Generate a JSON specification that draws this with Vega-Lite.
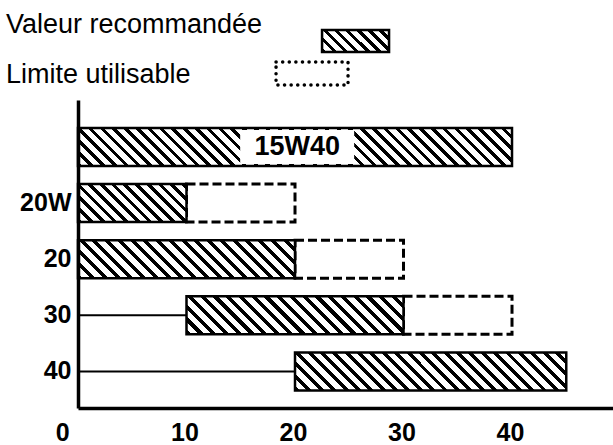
{
  "$schema": "https://vega.github.io/schema/vega-lite/v6.json",
  "padding": {"left": 5, "top": 0, "right": 0, "bottom": 0},
  "background": "white",
  "spacing": 0,
  "bounds": "flush",
  "config": {"view": {"stroke": null}},
  "datasets": {
    "grades": [
      {"grade": "15W40", "rec_start": 0, "rec_end": 40},
      {"grade": "20W", "rec_start": 0, "rec_end": 10, "lim_start": 10, "lim_end": 20},
      {"grade": "20", "rec_start": 0, "rec_end": 20, "lim_start": 20, "lim_end": 30},
      {"grade": "30", "rec_start": 10, "rec_end": 30, "lim_start": 30, "lim_end": 40},
      {"grade": "40", "rec_start": 20, "rec_end": 45}
    ],
    "legend": [
      {"item": "Valeur recommandée", "kind": "rec"},
      {"item": "Limite utilisable", "kind": "lim"}
    ]
  },
  "vconcat": [
    {
      "width": 536,
      "height": 100,
      "data": {"name": "legend"},
      "layer": [
        {
          "mark": {"type": "text", "font": "Liberation Sans", "fontSize": 27, "color": "#000", "align": "left", "baseline": "alphabetic"},
          "encoding": {
            "x": {"datum": -6.64, "type": "quantitative", "scale": {"domain": [0, 49.4], "nice": false, "zero": false}, "axis": null},
            "y": {"field": "item", "type": "nominal", "scale": {"type": "point", "domain": ["Valeur recommandée", "Limite utilisable"], "range": [33, 83], "padding": 0}, "axis": null},
            "text": {"field": "item"}
          }
        },
        {
          "transform": [{"filter": "datum.kind === 'rec'"}],
          "mark": {"type": "point", "shape": "M-1,-0.328H1V0.328H-1Z", "size": 4489, "yOffset": 8, "filled": true, "opacity": 1, "stroke": "#000", "strokeWidth": 2.5,
            "fill": {"gradient": "linear", "x1": 0, "y1": 1, "x2": 1.1991, "y2": 0.6063, "stops": [
              {"offset": 0, "color": "#000"}, {"offset": 0.05, "color": "#000"}, {"offset": 0.05, "color": "#fff"}, {"offset": 0.125, "color": "#fff"},
              {"offset": 0.125, "color": "#000"}, {"offset": 0.175, "color": "#000"}, {"offset": 0.175, "color": "#fff"}, {"offset": 0.25, "color": "#fff"},
              {"offset": 0.25, "color": "#000"}, {"offset": 0.3, "color": "#000"}, {"offset": 0.3, "color": "#fff"}, {"offset": 0.375, "color": "#fff"},
              {"offset": 0.375, "color": "#000"}, {"offset": 0.425, "color": "#000"}, {"offset": 0.425, "color": "#fff"}, {"offset": 0.5, "color": "#fff"},
              {"offset": 0.5, "color": "#000"}, {"offset": 0.55, "color": "#000"}, {"offset": 0.55, "color": "#fff"}, {"offset": 0.625, "color": "#fff"},
              {"offset": 0.625, "color": "#000"}, {"offset": 0.675, "color": "#000"}, {"offset": 0.675, "color": "#fff"}, {"offset": 0.75, "color": "#fff"},
              {"offset": 0.75, "color": "#000"}, {"offset": 0.8, "color": "#000"}, {"offset": 0.8, "color": "#fff"}, {"offset": 0.875, "color": "#fff"},
              {"offset": 0.875, "color": "#000"}, {"offset": 0.925, "color": "#000"}, {"offset": 0.925, "color": "#fff"}, {"offset": 1, "color": "#fff"}
            ]}},
          "encoding": {
            "x": {"datum": 25.58, "type": "quantitative"},
            "y": {"field": "item", "type": "nominal"}
          }
        },
        {
          "transform": [{"filter": "datum.kind === 'lim'"}],
          "mark": {"type": "point", "shape": "M-1,-0.319H1V0.319H-1Z", "size": 5184, "yOffset": -9.5, "filled": true, "opacity": 1, "fill": "#fff", "stroke": "#000", "strokeWidth": 3.5, "strokeDash": [0.1, 6.5], "strokeCap": "round"},
          "encoding": {
            "x": {"datum": 21.57, "type": "quantitative"},
            "y": {"field": "item", "type": "nominal"}
          }
        }
      ]
    },
    {
      "width": 536,
      "height": 308,
      "data": {"name": "grades"},
      "layer": [
        {
          "transform": [{"filter": "isValid(datum.lim_start)"}],
          "mark": {"type": "rect", "fill": "#fff", "stroke": "#000", "strokeWidth": 3, "strokeDash": [9, 4]},
          "encoding": {
            "x": {"field": "lim_start", "type": "quantitative", "scale": {"domain": [0, 49.4], "nice": false, "zero": false},
              "axis": {"title": null, "values": [0, 10, 20, 30, 40], "ticks": false, "tickSize": 0, "grid": false, "domainColor": "#000", "domainWidth": 3.5, "labelFont": "Liberation Sans", "labelFontSize": 25, "labelFontWeight": "bold", "labelColor": "#000", "labelPadding": 12, "labelFlush": false, "labelOverlap": false, "labelOffset": -2, "labelExpr": "datum.value === 0 ? '0\u00a0\u00a0\u00a0\u00a0\u200b' : datum.label"}},
            "x2": {"field": "lim_end"},
            "y": {"field": "grade", "type": "nominal", "scale": {"domain": ["15W40", "20W", "20", "30", "40"], "paddingInner": 0.3226, "paddingOuter": 0.406, "align": 0.614},
              "axis": {"title": null, "ticks": false, "tickSize": 0, "grid": false, "domainColor": "#000", "domainWidth": 3.5, "labelFont": "Liberation Sans", "labelFontSize": 25, "labelFontWeight": "bold", "labelColor": "#000", "labelPadding": 7, "labelExpr": "datum.value === '15W40' ? '' : datum.value"}}
          }
        },
        {
          "transform": [{"filter": "datum.rec_start > 0"}],
          "mark": {"type": "rule", "color": "#000", "strokeWidth": 2},
          "encoding": {
            "x": {"field": "rec_start", "type": "quantitative"},
            "x2": {"value": 0},
            "y": {"field": "grade", "type": "nominal"}
          }
        },
        {
          "transform": [{"filter": "datum.grade === '15W40'"}],
          "mark": {"type": "rect", "stroke": "#000", "strokeWidth": 2.5,
            "fill": {"gradient": "linear", "x1": 0, "y1": 1, "x2": 1.0793, "y2": 0.9055, "stops": [
              {"offset": 0, "color": "#000"}, {"offset": 0.01, "color": "#000"}, {"offset": 0.01, "color": "#fff"}, {"offset": 0.025, "color": "#fff"},
              {"offset": 0.025, "color": "#000"}, {"offset": 0.035, "color": "#000"}, {"offset": 0.035, "color": "#fff"}, {"offset": 0.05, "color": "#fff"},
              {"offset": 0.05, "color": "#000"}, {"offset": 0.06, "color": "#000"}, {"offset": 0.06, "color": "#fff"}, {"offset": 0.075, "color": "#fff"},
              {"offset": 0.075, "color": "#000"}, {"offset": 0.085, "color": "#000"}, {"offset": 0.085, "color": "#fff"}, {"offset": 0.1, "color": "#fff"},
              {"offset": 0.1, "color": "#000"}, {"offset": 0.11, "color": "#000"}, {"offset": 0.11, "color": "#fff"}, {"offset": 0.125, "color": "#fff"},
              {"offset": 0.125, "color": "#000"}, {"offset": 0.135, "color": "#000"}, {"offset": 0.135, "color": "#fff"}, {"offset": 0.15, "color": "#fff"},
              {"offset": 0.15, "color": "#000"}, {"offset": 0.16, "color": "#000"}, {"offset": 0.16, "color": "#fff"}, {"offset": 0.175, "color": "#fff"},
              {"offset": 0.175, "color": "#000"}, {"offset": 0.185, "color": "#000"}, {"offset": 0.185, "color": "#fff"}, {"offset": 0.2, "color": "#fff"},
              {"offset": 0.2, "color": "#000"}, {"offset": 0.21, "color": "#000"}, {"offset": 0.21, "color": "#fff"}, {"offset": 0.225, "color": "#fff"},
              {"offset": 0.225, "color": "#000"}, {"offset": 0.235, "color": "#000"}, {"offset": 0.235, "color": "#fff"}, {"offset": 0.25, "color": "#fff"},
              {"offset": 0.25, "color": "#000"}, {"offset": 0.26, "color": "#000"}, {"offset": 0.26, "color": "#fff"}, {"offset": 0.275, "color": "#fff"},
              {"offset": 0.275, "color": "#000"}, {"offset": 0.285, "color": "#000"}, {"offset": 0.285, "color": "#fff"}, {"offset": 0.3, "color": "#fff"},
              {"offset": 0.3, "color": "#000"}, {"offset": 0.31, "color": "#000"}, {"offset": 0.31, "color": "#fff"}, {"offset": 0.325, "color": "#fff"},
              {"offset": 0.325, "color": "#000"}, {"offset": 0.335, "color": "#000"}, {"offset": 0.335, "color": "#fff"}, {"offset": 0.35, "color": "#fff"},
              {"offset": 0.35, "color": "#000"}, {"offset": 0.36, "color": "#000"}, {"offset": 0.36, "color": "#fff"}, {"offset": 0.375, "color": "#fff"},
              {"offset": 0.375, "color": "#000"}, {"offset": 0.385, "color": "#000"}, {"offset": 0.385, "color": "#fff"}, {"offset": 0.4, "color": "#fff"},
              {"offset": 0.4, "color": "#000"}, {"offset": 0.41, "color": "#000"}, {"offset": 0.41, "color": "#fff"}, {"offset": 0.425, "color": "#fff"},
              {"offset": 0.425, "color": "#000"}, {"offset": 0.435, "color": "#000"}, {"offset": 0.435, "color": "#fff"}, {"offset": 0.45, "color": "#fff"},
              {"offset": 0.45, "color": "#000"}, {"offset": 0.46, "color": "#000"}, {"offset": 0.46, "color": "#fff"}, {"offset": 0.475, "color": "#fff"},
              {"offset": 0.475, "color": "#000"}, {"offset": 0.485, "color": "#000"}, {"offset": 0.485, "color": "#fff"}, {"offset": 0.5, "color": "#fff"},
              {"offset": 0.5, "color": "#000"}, {"offset": 0.51, "color": "#000"}, {"offset": 0.51, "color": "#fff"}, {"offset": 0.525, "color": "#fff"},
              {"offset": 0.525, "color": "#000"}, {"offset": 0.535, "color": "#000"}, {"offset": 0.535, "color": "#fff"}, {"offset": 0.55, "color": "#fff"},
              {"offset": 0.55, "color": "#000"}, {"offset": 0.56, "color": "#000"}, {"offset": 0.56, "color": "#fff"}, {"offset": 0.575, "color": "#fff"},
              {"offset": 0.575, "color": "#000"}, {"offset": 0.585, "color": "#000"}, {"offset": 0.585, "color": "#fff"}, {"offset": 0.6, "color": "#fff"},
              {"offset": 0.6, "color": "#000"}, {"offset": 0.61, "color": "#000"}, {"offset": 0.61, "color": "#fff"}, {"offset": 0.625, "color": "#fff"},
              {"offset": 0.625, "color": "#000"}, {"offset": 0.635, "color": "#000"}, {"offset": 0.635, "color": "#fff"}, {"offset": 0.65, "color": "#fff"},
              {"offset": 0.65, "color": "#000"}, {"offset": 0.66, "color": "#000"}, {"offset": 0.66, "color": "#fff"}, {"offset": 0.675, "color": "#fff"},
              {"offset": 0.675, "color": "#000"}, {"offset": 0.685, "color": "#000"}, {"offset": 0.685, "color": "#fff"}, {"offset": 0.7, "color": "#fff"},
              {"offset": 0.7, "color": "#000"}, {"offset": 0.71, "color": "#000"}, {"offset": 0.71, "color": "#fff"}, {"offset": 0.725, "color": "#fff"},
              {"offset": 0.725, "color": "#000"}, {"offset": 0.735, "color": "#000"}, {"offset": 0.735, "color": "#fff"}, {"offset": 0.75, "color": "#fff"},
              {"offset": 0.75, "color": "#000"}, {"offset": 0.76, "color": "#000"}, {"offset": 0.76, "color": "#fff"}, {"offset": 0.775, "color": "#fff"},
              {"offset": 0.775, "color": "#000"}, {"offset": 0.785, "color": "#000"}, {"offset": 0.785, "color": "#fff"}, {"offset": 0.8, "color": "#fff"},
              {"offset": 0.8, "color": "#000"}, {"offset": 0.81, "color": "#000"}, {"offset": 0.81, "color": "#fff"}, {"offset": 0.825, "color": "#fff"},
              {"offset": 0.825, "color": "#000"}, {"offset": 0.835, "color": "#000"}, {"offset": 0.835, "color": "#fff"}, {"offset": 0.85, "color": "#fff"},
              {"offset": 0.85, "color": "#000"}, {"offset": 0.86, "color": "#000"}, {"offset": 0.86, "color": "#fff"}, {"offset": 0.875, "color": "#fff"},
              {"offset": 0.875, "color": "#000"}, {"offset": 0.885, "color": "#000"}, {"offset": 0.885, "color": "#fff"}, {"offset": 0.9, "color": "#fff"},
              {"offset": 0.9, "color": "#000"}, {"offset": 0.91, "color": "#000"}, {"offset": 0.91, "color": "#fff"}, {"offset": 0.925, "color": "#fff"},
              {"offset": 0.925, "color": "#000"}, {"offset": 0.935, "color": "#000"}, {"offset": 0.935, "color": "#fff"}, {"offset": 0.95, "color": "#fff"},
              {"offset": 0.95, "color": "#000"}, {"offset": 0.96, "color": "#000"}, {"offset": 0.96, "color": "#fff"}, {"offset": 0.975, "color": "#fff"},
              {"offset": 0.975, "color": "#000"}, {"offset": 0.985, "color": "#000"}, {"offset": 0.985, "color": "#fff"}, {"offset": 1, "color": "#fff"}
            ]}},
          "encoding": {
            "x": {"field": "rec_start", "type": "quantitative"},
            "x2": {"field": "rec_end"},
            "y": {"field": "grade", "type": "nominal"}
          }
        },
        {
          "transform": [{"filter": "datum.grade === '20W'"}],
          "mark": {"type": "rect", "stroke": "#000", "strokeWidth": 2.5,
            "fill": {"gradient": "linear", "x1": 0, "y1": 1, "x2": 1.2027, "y2": 0.5788, "stops": [
              {"offset": 0, "color": "#000"}, {"offset": 0.032, "color": "#000"}, {"offset": 0.032, "color": "#fff"}, {"offset": 0.08, "color": "#fff"},
              {"offset": 0.08, "color": "#000"}, {"offset": 0.112, "color": "#000"}, {"offset": 0.112, "color": "#fff"}, {"offset": 0.16, "color": "#fff"},
              {"offset": 0.16, "color": "#000"}, {"offset": 0.192, "color": "#000"}, {"offset": 0.192, "color": "#fff"}, {"offset": 0.24, "color": "#fff"},
              {"offset": 0.24, "color": "#000"}, {"offset": 0.272, "color": "#000"}, {"offset": 0.272, "color": "#fff"}, {"offset": 0.32, "color": "#fff"},
              {"offset": 0.32, "color": "#000"}, {"offset": 0.352, "color": "#000"}, {"offset": 0.352, "color": "#fff"}, {"offset": 0.4, "color": "#fff"},
              {"offset": 0.4, "color": "#000"}, {"offset": 0.432, "color": "#000"}, {"offset": 0.432, "color": "#fff"}, {"offset": 0.48, "color": "#fff"},
              {"offset": 0.48, "color": "#000"}, {"offset": 0.512, "color": "#000"}, {"offset": 0.512, "color": "#fff"}, {"offset": 0.56, "color": "#fff"},
              {"offset": 0.56, "color": "#000"}, {"offset": 0.592, "color": "#000"}, {"offset": 0.592, "color": "#fff"}, {"offset": 0.64, "color": "#fff"},
              {"offset": 0.64, "color": "#000"}, {"offset": 0.672, "color": "#000"}, {"offset": 0.672, "color": "#fff"}, {"offset": 0.72, "color": "#fff"},
              {"offset": 0.72, "color": "#000"}, {"offset": 0.752, "color": "#000"}, {"offset": 0.752, "color": "#fff"}, {"offset": 0.8, "color": "#fff"},
              {"offset": 0.8, "color": "#000"}, {"offset": 0.832, "color": "#000"}, {"offset": 0.832, "color": "#fff"}, {"offset": 0.88, "color": "#fff"},
              {"offset": 0.88, "color": "#000"}, {"offset": 0.912, "color": "#000"}, {"offset": 0.912, "color": "#fff"}, {"offset": 0.96, "color": "#fff"},
              {"offset": 0.96, "color": "#000"}, {"offset": 0.992, "color": "#000"}, {"offset": 0.992, "color": "#fff"}, {"offset": 1, "color": "#fff"}
            ]}},
          "encoding": {
            "x": {"field": "rec_start", "type": "quantitative"},
            "x2": {"field": "rec_end"},
            "y": {"field": "grade", "type": "nominal"}
          }
        },
        {
          "transform": [{"filter": "datum.grade === '20' || datum.grade === '30'"}],
          "mark": {"type": "rect", "stroke": "#000", "strokeWidth": 2.5,
            "fill": {"gradient": "linear", "x1": 0, "y1": 1, "x2": 1.1402, "y2": 0.8003, "stops": [
              {"offset": 0, "color": "#000"}, {"offset": 0.02, "color": "#000"}, {"offset": 0.02, "color": "#fff"}, {"offset": 0.05, "color": "#fff"},
              {"offset": 0.05, "color": "#000"}, {"offset": 0.07, "color": "#000"}, {"offset": 0.07, "color": "#fff"}, {"offset": 0.1, "color": "#fff"},
              {"offset": 0.1, "color": "#000"}, {"offset": 0.12, "color": "#000"}, {"offset": 0.12, "color": "#fff"}, {"offset": 0.15, "color": "#fff"},
              {"offset": 0.15, "color": "#000"}, {"offset": 0.17, "color": "#000"}, {"offset": 0.17, "color": "#fff"}, {"offset": 0.2, "color": "#fff"},
              {"offset": 0.2, "color": "#000"}, {"offset": 0.22, "color": "#000"}, {"offset": 0.22, "color": "#fff"}, {"offset": 0.25, "color": "#fff"},
              {"offset": 0.25, "color": "#000"}, {"offset": 0.27, "color": "#000"}, {"offset": 0.27, "color": "#fff"}, {"offset": 0.3, "color": "#fff"},
              {"offset": 0.3, "color": "#000"}, {"offset": 0.32, "color": "#000"}, {"offset": 0.32, "color": "#fff"}, {"offset": 0.35, "color": "#fff"},
              {"offset": 0.35, "color": "#000"}, {"offset": 0.37, "color": "#000"}, {"offset": 0.37, "color": "#fff"}, {"offset": 0.4, "color": "#fff"},
              {"offset": 0.4, "color": "#000"}, {"offset": 0.42, "color": "#000"}, {"offset": 0.42, "color": "#fff"}, {"offset": 0.45, "color": "#fff"},
              {"offset": 0.45, "color": "#000"}, {"offset": 0.47, "color": "#000"}, {"offset": 0.47, "color": "#fff"}, {"offset": 0.5, "color": "#fff"},
              {"offset": 0.5, "color": "#000"}, {"offset": 0.52, "color": "#000"}, {"offset": 0.52, "color": "#fff"}, {"offset": 0.55, "color": "#fff"},
              {"offset": 0.55, "color": "#000"}, {"offset": 0.57, "color": "#000"}, {"offset": 0.57, "color": "#fff"}, {"offset": 0.6, "color": "#fff"},
              {"offset": 0.6, "color": "#000"}, {"offset": 0.62, "color": "#000"}, {"offset": 0.62, "color": "#fff"}, {"offset": 0.65, "color": "#fff"},
              {"offset": 0.65, "color": "#000"}, {"offset": 0.67, "color": "#000"}, {"offset": 0.67, "color": "#fff"}, {"offset": 0.7, "color": "#fff"},
              {"offset": 0.7, "color": "#000"}, {"offset": 0.72, "color": "#000"}, {"offset": 0.72, "color": "#fff"}, {"offset": 0.75, "color": "#fff"},
              {"offset": 0.75, "color": "#000"}, {"offset": 0.77, "color": "#000"}, {"offset": 0.77, "color": "#fff"}, {"offset": 0.8, "color": "#fff"},
              {"offset": 0.8, "color": "#000"}, {"offset": 0.82, "color": "#000"}, {"offset": 0.82, "color": "#fff"}, {"offset": 0.85, "color": "#fff"},
              {"offset": 0.85, "color": "#000"}, {"offset": 0.87, "color": "#000"}, {"offset": 0.87, "color": "#fff"}, {"offset": 0.9, "color": "#fff"},
              {"offset": 0.9, "color": "#000"}, {"offset": 0.92, "color": "#000"}, {"offset": 0.92, "color": "#fff"}, {"offset": 0.95, "color": "#fff"},
              {"offset": 0.95, "color": "#000"}, {"offset": 0.97, "color": "#000"}, {"offset": 0.97, "color": "#fff"}, {"offset": 1, "color": "#fff"}
            ]}},
          "encoding": {
            "x": {"field": "rec_start", "type": "quantitative"},
            "x2": {"field": "rec_end"},
            "y": {"field": "grade", "type": "nominal"}
          }
        },
        {
          "transform": [{"filter": "datum.grade === '40'"}],
          "mark": {"type": "rect", "stroke": "#000", "strokeWidth": 2.5,
            "fill": {"gradient": "linear", "x1": 0, "y1": 1, "x2": 1.1182, "y2": 0.8434, "stops": [
              {"offset": 0, "color": "#000"}, {"offset": 0.016, "color": "#000"}, {"offset": 0.016, "color": "#fff"}, {"offset": 0.04, "color": "#fff"},
              {"offset": 0.04, "color": "#000"}, {"offset": 0.056, "color": "#000"}, {"offset": 0.056, "color": "#fff"}, {"offset": 0.08, "color": "#fff"},
              {"offset": 0.08, "color": "#000"}, {"offset": 0.096, "color": "#000"}, {"offset": 0.096, "color": "#fff"}, {"offset": 0.12, "color": "#fff"},
              {"offset": 0.12, "color": "#000"}, {"offset": 0.136, "color": "#000"}, {"offset": 0.136, "color": "#fff"}, {"offset": 0.16, "color": "#fff"},
              {"offset": 0.16, "color": "#000"}, {"offset": 0.176, "color": "#000"}, {"offset": 0.176, "color": "#fff"}, {"offset": 0.2, "color": "#fff"},
              {"offset": 0.2, "color": "#000"}, {"offset": 0.216, "color": "#000"}, {"offset": 0.216, "color": "#fff"}, {"offset": 0.24, "color": "#fff"},
              {"offset": 0.24, "color": "#000"}, {"offset": 0.256, "color": "#000"}, {"offset": 0.256, "color": "#fff"}, {"offset": 0.28, "color": "#fff"},
              {"offset": 0.28, "color": "#000"}, {"offset": 0.296, "color": "#000"}, {"offset": 0.296, "color": "#fff"}, {"offset": 0.32, "color": "#fff"},
              {"offset": 0.32, "color": "#000"}, {"offset": 0.336, "color": "#000"}, {"offset": 0.336, "color": "#fff"}, {"offset": 0.36, "color": "#fff"},
              {"offset": 0.36, "color": "#000"}, {"offset": 0.376, "color": "#000"}, {"offset": 0.376, "color": "#fff"}, {"offset": 0.4, "color": "#fff"},
              {"offset": 0.4, "color": "#000"}, {"offset": 0.416, "color": "#000"}, {"offset": 0.416, "color": "#fff"}, {"offset": 0.44, "color": "#fff"},
              {"offset": 0.44, "color": "#000"}, {"offset": 0.456, "color": "#000"}, {"offset": 0.456, "color": "#fff"}, {"offset": 0.48, "color": "#fff"},
              {"offset": 0.48, "color": "#000"}, {"offset": 0.496, "color": "#000"}, {"offset": 0.496, "color": "#fff"}, {"offset": 0.52, "color": "#fff"},
              {"offset": 0.52, "color": "#000"}, {"offset": 0.536, "color": "#000"}, {"offset": 0.536, "color": "#fff"}, {"offset": 0.56, "color": "#fff"},
              {"offset": 0.56, "color": "#000"}, {"offset": 0.576, "color": "#000"}, {"offset": 0.576, "color": "#fff"}, {"offset": 0.6, "color": "#fff"},
              {"offset": 0.6, "color": "#000"}, {"offset": 0.616, "color": "#000"}, {"offset": 0.616, "color": "#fff"}, {"offset": 0.64, "color": "#fff"},
              {"offset": 0.64, "color": "#000"}, {"offset": 0.656, "color": "#000"}, {"offset": 0.656, "color": "#fff"}, {"offset": 0.68, "color": "#fff"},
              {"offset": 0.68, "color": "#000"}, {"offset": 0.696, "color": "#000"}, {"offset": 0.696, "color": "#fff"}, {"offset": 0.72, "color": "#fff"},
              {"offset": 0.72, "color": "#000"}, {"offset": 0.736, "color": "#000"}, {"offset": 0.736, "color": "#fff"}, {"offset": 0.76, "color": "#fff"},
              {"offset": 0.76, "color": "#000"}, {"offset": 0.776, "color": "#000"}, {"offset": 0.776, "color": "#fff"}, {"offset": 0.8, "color": "#fff"},
              {"offset": 0.8, "color": "#000"}, {"offset": 0.816, "color": "#000"}, {"offset": 0.816, "color": "#fff"}, {"offset": 0.84, "color": "#fff"},
              {"offset": 0.84, "color": "#000"}, {"offset": 0.856, "color": "#000"}, {"offset": 0.856, "color": "#fff"}, {"offset": 0.88, "color": "#fff"},
              {"offset": 0.88, "color": "#000"}, {"offset": 0.896, "color": "#000"}, {"offset": 0.896, "color": "#fff"}, {"offset": 0.92, "color": "#fff"},
              {"offset": 0.92, "color": "#000"}, {"offset": 0.936, "color": "#000"}, {"offset": 0.936, "color": "#fff"}, {"offset": 0.96, "color": "#fff"},
              {"offset": 0.96, "color": "#000"}, {"offset": 0.976, "color": "#000"}, {"offset": 0.976, "color": "#fff"}, {"offset": 1, "color": "#fff"}
            ]}},
          "encoding": {
            "x": {"field": "rec_start", "type": "quantitative"},
            "x2": {"field": "rec_end"},
            "y": {"field": "grade", "type": "nominal"}
          }
        },
        {
          "transform": [{"filter": "datum.grade === '15W40'"}],
          "mark": {"type": "point", "shape": "M-1,-0.298H1V0.298H-1Z", "size": 12996, "filled": true, "color": "#fff", "fill": "#fff", "strokeWidth": 0, "opacity": 1},
          "encoding": {
            "x": {"datum": 20.2, "type": "quantitative"},
            "y": {"field": "grade", "type": "nominal"}
          }
        },
        {
          "transform": [{"filter": "datum.grade === '15W40'"}],
          "mark": {"type": "text", "font": "Liberation Sans", "fontSize": 27, "fontWeight": "bold", "color": "#000", "align": "center", "baseline": "middle"},
          "encoding": {
            "x": {"datum": 20.2, "type": "quantitative"},
            "y": {"field": "grade", "type": "nominal"},
            "text": {"field": "grade"}
          }
        }
      ]
    }
  ]
}
